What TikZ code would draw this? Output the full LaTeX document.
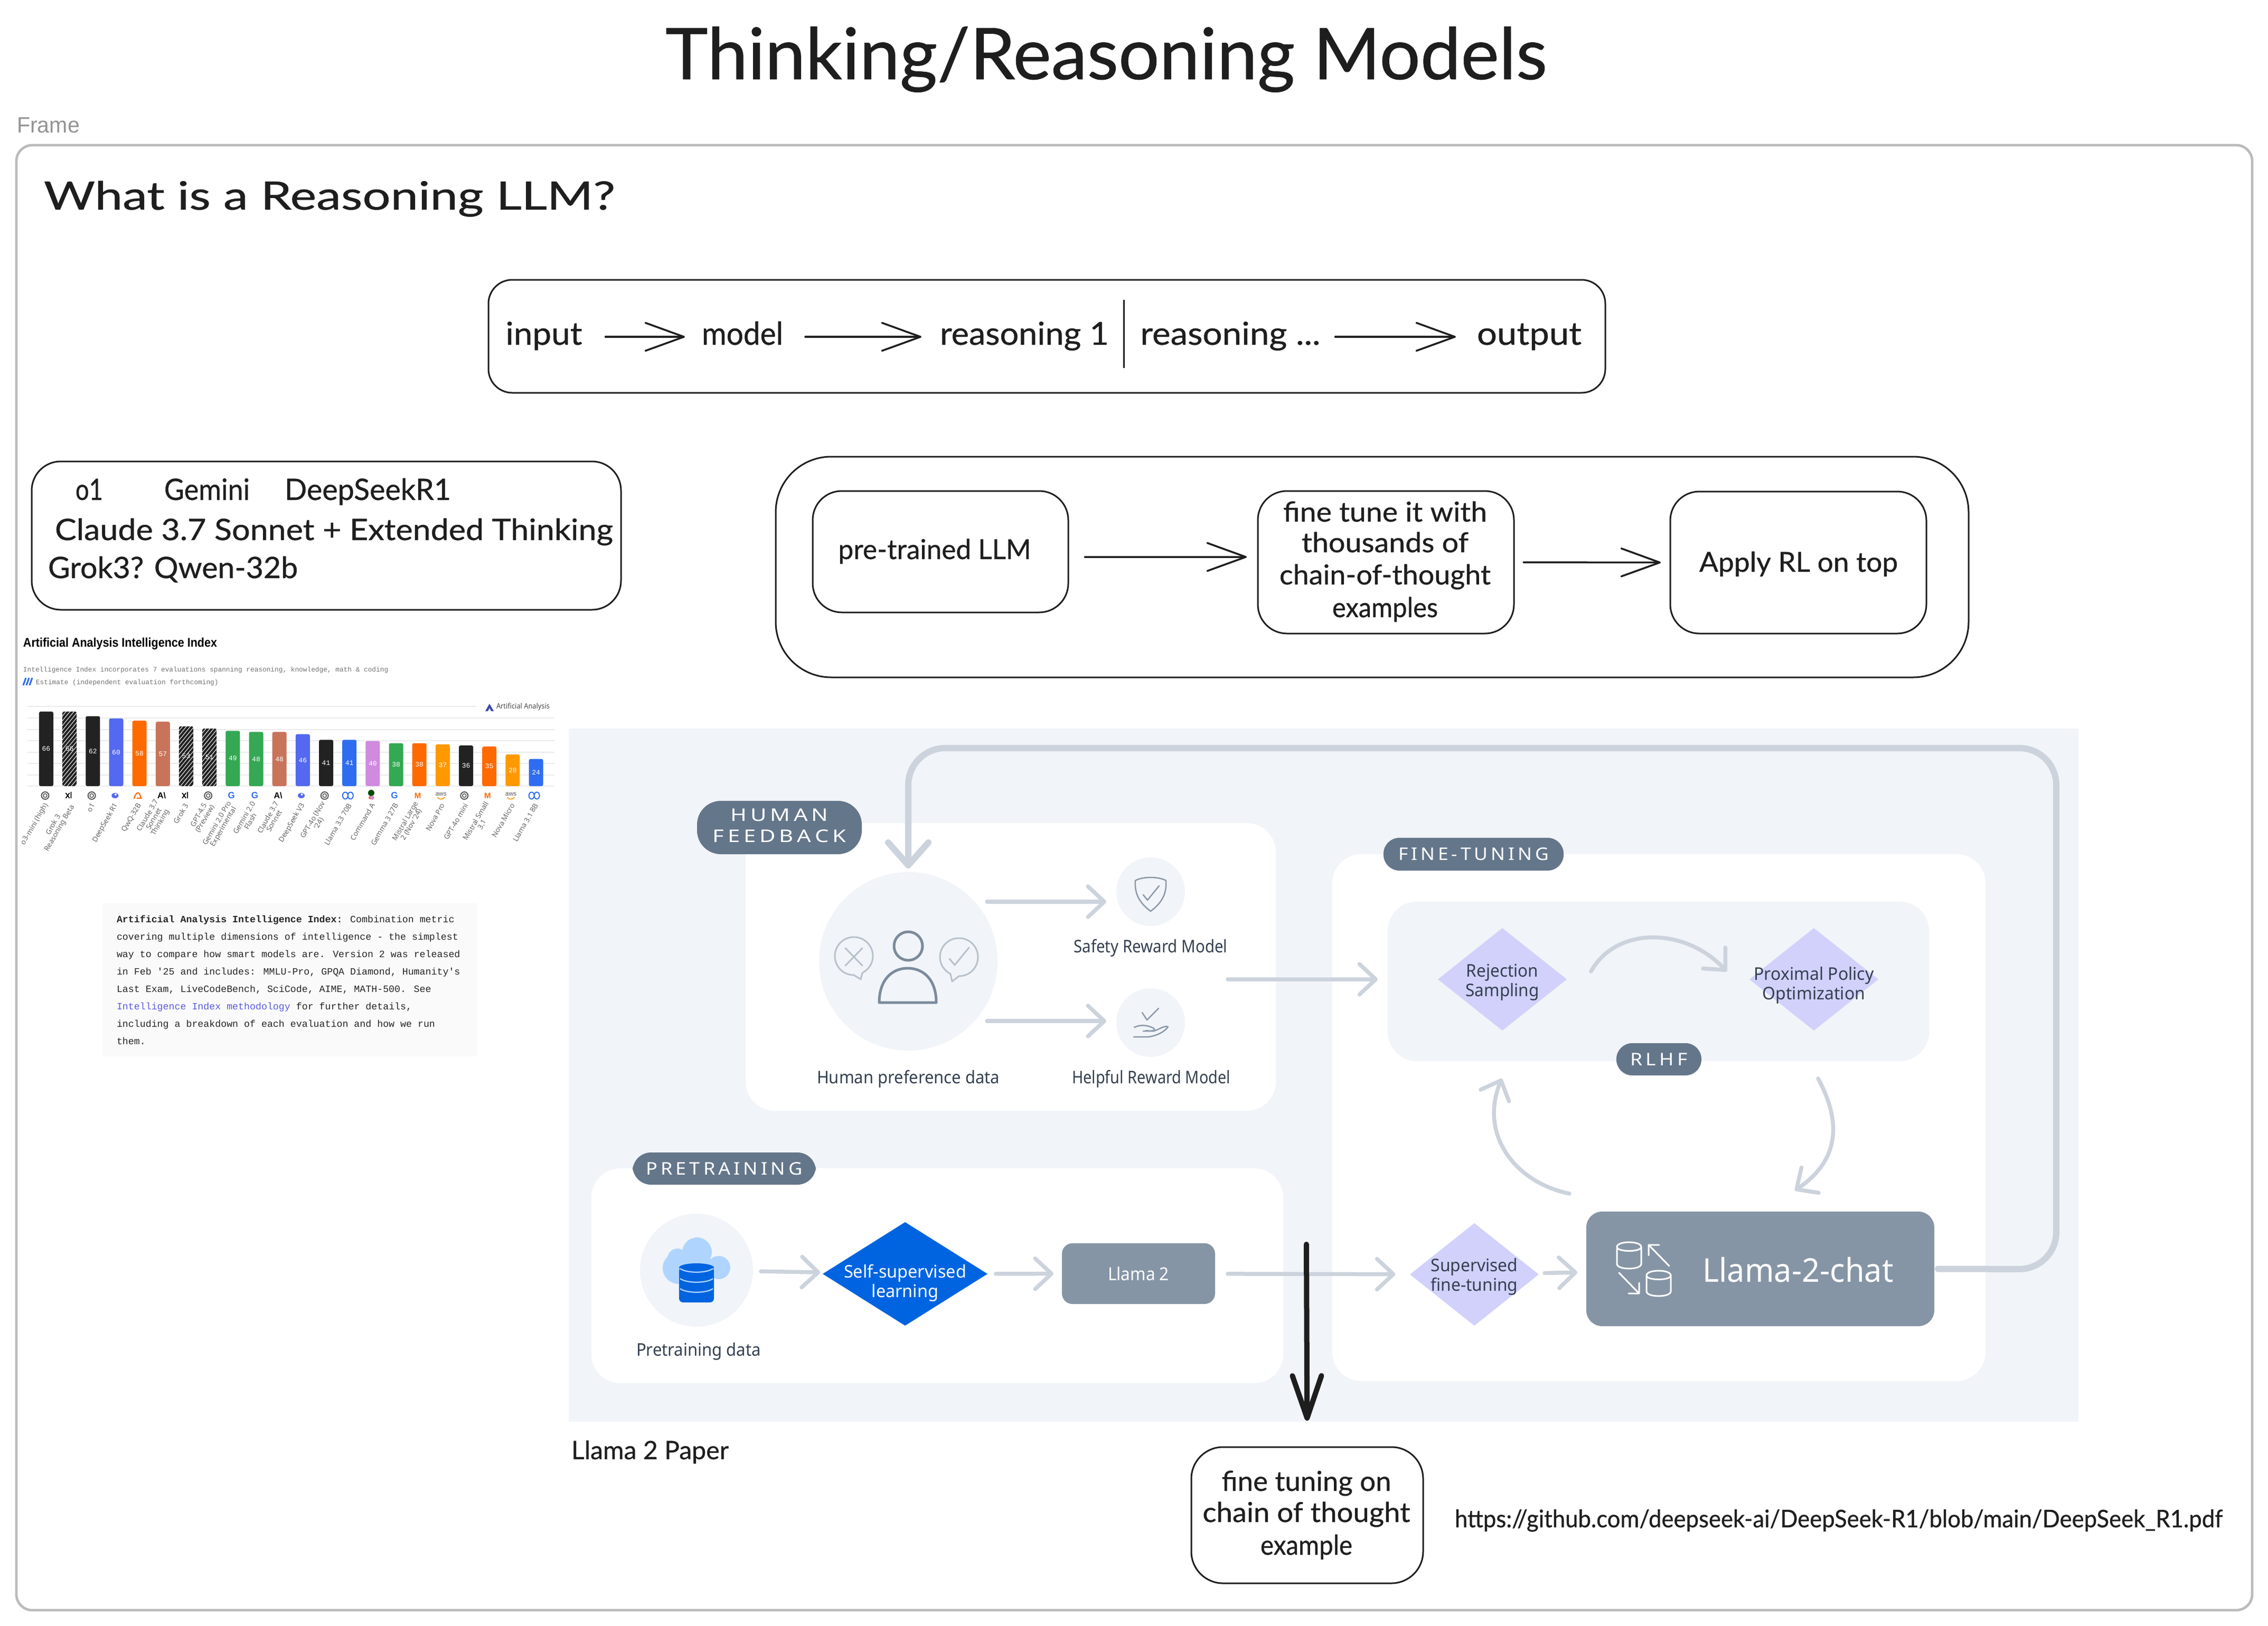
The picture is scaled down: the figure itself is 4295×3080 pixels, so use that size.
\documentclass[tikz,border=0pt]{standalone}
\usepackage{fontspec}
\usepackage{graphicx}
\usetikzlibrary{arrows.meta,shapes.geometric,calc}
\setmainfont{Noto Sans}
\newfontfamily\hand{Lato}[FakeBold=0.6]
\newfontfamily\monof{Liberation Mono}
\newfontfamily\arialf{Liberation Sans}
\newcommand\fs[2]{\fontsize{\fpeval{#1*0.2}pt}{\fpeval{#2*0.2}pt}\selectfont}
\newcommand\fitw[2]{\resizebox{\dimexpr #1pt*2/10\relax}{\height}{#2}}
\newcommand\twol[2]{\begin{tabular}{@{}c@{}}#1\\#2\end{tabular}}
\newcommand\bxnode[7]{\node[#1,minimum width={(#5-#3)*0.2pt},minimum height={(#6-#4)*0.2pt}] (#2) at ({(#3+#5)/2},{(#4+#6)/2}) {#7};}
\definecolor{ink}{HTML}{1E1E1E}
\definecolor{framec}{HTML}{BBBBBB}
\definecolor{pagebg}{HTML}{F1F4F8}
\definecolor{linec}{HTML}{CCD3DC}
\definecolor{bubblec}{HTML}{B7C1CC}
\definecolor{pillc}{HTML}{64768A}
\definecolor{slatec}{HTML}{8695A5}
\definecolor{lilac}{HTML}{D1D1FB}
\definecolor{metablue}{HTML}{0064E0}
\definecolor{skyc}{HTML}{AFD5FF}
\definecolor{txtc}{HTML}{344050}
\definecolor{blk}{HTML}{222222}
\definecolor{dsb}{HTML}{5468F0}
\definecolor{ora}{HTML}{FF6A00}
\definecolor{ter}{HTML}{C8745A}
\definecolor{grn}{HTML}{34A853}
\definecolor{mta}{HTML}{2F6DF0}
\definecolor{pnk}{HTML}{D08AE0}
\definecolor{amb}{HTML}{FF9900}
\tikzset{
  box/.style={draw=ink,line width=0.6pt,fill=white,rounded corners=#1,inner sep=0pt,outer sep=0pt},
  htext/.style={inner sep=0pt,outer sep=0pt,text=ink,font={\hand\fs{#1}{#1}}},
  harrow/.style={draw=ink,line width=0.7pt,line cap=round,-{Straight Barb[length=14.6pt,width=10.6pt,round]}},
  garrow/.style={draw=linec,line width=1.5pt,line cap=round,-{Straight Barb[length=6.2pt,width=11.6pt,round]}},
  card/.style={fill=white,rounded corners=11pt,inner sep=0pt,outer sep=0pt},
  pill/.style={fill=pillc,rounded corners=#1,inner sep=0pt,outer sep=0pt,text=white,font={\bfseries\fs{33}{40}}},
  dia/.style={diamond,fill=lilac,inner sep=0pt,outer sep=0pt},
  uitext/.style={inner sep=0pt,outer sep=0pt,text=txtc,font={\fs{33}{37}}},
  softdisc/.style={circle,fill=pagebg,inner sep=0pt,outer sep=0pt},
  iconl/.style={draw=#1,line width=0.6pt,line join=round,line cap=round},
  row/.style={htext=60,text height=9.5pt,text depth=3.5pt},
}
\begin{document}
\begin{tikzpicture}[x=0.2pt,y=-0.2pt]
\useasboundingbox (0,0) rectangle (4295,3080);
\fill[white] (0,0) rectangle (4295,3080);
% title and frame
\node[htext=135,anchor=base] (title) at (2095,150) {\fitw{1670}{Thinking/Reasoning Models}};
\node[inner sep=0pt,anchor=base west,text=black!42,font={\arialf\fs{42}{42}}] (framelbl) at (31,251) {\fitw{119}{Frame}};
\draw[framec,line width=0.95pt,rounded corners=6pt] (31,275) rectangle (4265,3050);
\node[htext=74,anchor=base west] (heading) at (83,397) {\fitw{1082}{What is a Reasoning LLM?}};
% pipeline box
\bxnode{box=9pt}{pipe}{925}{530}{3040}{744}{}
\node[row] (tinput) at (1030,638) {\fitw{145}{input}};
\node[row] (tmodel) at (1406,638) {\fitw{154}{model}};
\node[row] (tr1) at (1940,638) {\fitw{320}{reasoning 1}};
\node[row] (trn) at (2330,638) {\fitw{341}{reasoning ...}};
\node[row] (toutput) at (2896,638) {\fitw{198}{output}};
\draw[harrow,shorten <=8.8pt,shorten >=6.4pt] (tinput) -- (tmodel);
\draw[harrow,shorten <=8.4pt,shorten >=7pt] (tmodel) -- (tr1);
\draw[harrow,shorten <=5.6pt,shorten >=8pt] (trn) -- (toutput);
\coordinate (divT) at (2128,568); \coordinate (divB) at (2128,697);
\draw[ink,line width=0.6pt] (divT) -- (divB);
% models box
\bxnode{box=11pt}{models}{60}{874}{1176}{1155}{}
\node[htext=56,anchor=base west] (mo1) at (143,947) {\fitw{52}{o1}};
\node[htext=56,anchor=base west] (mgem) at (311,947) {\fitw{162}{Gemini}};
\node[htext=56,anchor=base west] (mds) at (539,947) {\fitw{315}{DeepSeekR1}};
\node[htext=56,anchor=base west] (mcl) at (104,1023) {\fitw{1057}{Claude 3.7 Sonnet + Extended Thinking}};
\node[htext=56,anchor=base west] (mgr) at (91,1095) {\fitw{473}{Grok3? Qwen-32b}};
% recipe box
\bxnode{box=21pt}{recipe}{1469}{865}{3728}{1283}{}
\bxnode{box=11pt}{pre}{1539}{930}{2023}{1160}{}
\bxnode{box=11pt}{fine}{2382}{930}{2867}{1200}{}
\bxnode{box=11pt}{apply}{3163}{931}{3648}{1200}{}
\node[htext=52,anchor=base] (tpre) at (1770,1059) {\fitw{365}{pre-trained LLM}};
\node[htext=52,anchor=base] (tf1) at (2623,988) {\fitw{386}{fine tune it with}};
\node[htext=52,anchor=base] (tf2) at (2623,1046) {\fitw{316}{thousands of}};
\node[htext=52,anchor=base] (tf3) at (2623,1107) {\fitw{400}{chain-of-thought}};
\node[htext=52,anchor=base] (tf4) at (2623,1169) {\fitw{200}{examples}};
\node[htext=52,anchor=base] (tap) at (3406,1083) {\fitw{376}{Apply RL on top}};
\draw[harrow,shorten <=6.2pt,shorten >=4.2pt] ([yshift=-2pt]pre.east) -- ([yshift=2pt]fine.west);
\draw[harrow,shorten <=3.6pt,shorten >=3.6pt] (fine.east) -- (apply.west);
% chart
\node[inner sep=0pt,anchor=base west,text=black,font={\arialf\bfseries\fs{24}{24}}] (chtitle) at (43,1225) {\fitw{367}{Artificial Analysis Intelligence Index}};
\node[inner sep=0pt,anchor=base west,text=black!55,font={\monof\fs{12.8}{12.8}}] (chsub) at (43,1272) {Intelligence Index incorporates 7 evaluations spanning reasoning, knowledge, math \& coding};
\node[inner sep=0pt,anchor=base west,text=black!55,font={\monof\fs{12.8}{12.8}}] (chest) at (67,1296) {Estimate (independent evaluation forthcoming)};
\foreach \lx in {44,50,56} \draw[mta,line width=0.6pt] (\lx,1298) -- (\lx+5,1284);
\draw[black!8,line width=0.5pt] (52,1338) -- (902,1338);
\foreach \gy in {1360,1382,1403,1425,1446,1468,1489} \draw[black!8,line width=0.5pt] (52,\gy) -- (1050,\gy);
\fill[dsb!70!black] (927,1333) -- (935,1347) -- (930,1347) -- (927,1341) -- (924,1347) -- (919,1347) -- cycle;
\node[inner sep=0pt,anchor=west,text=black!70,font={\fs{14}{14}}] (aalogo) at (939,1339) {\fitw{101}{Artificial Analysis}};
\foreach \i/\v/\c/\h in {0/66/blk/0,1/66/blk/1,2/62/blk/0,3/60/dsb/0,4/58/ora/0,5/57/ter/0,6/53/blk/1,7/51/blk/1,8/49/grn/0,9/48/grn/0,10/48/ter/0,11/46/dsb/0,12/41/blk/0,13/41/mta/0,14/40/pnk/0,15/38/grn/0,16/38/ora/0,17/37/amb/0,18/36/blk/0,19/35/ora/0,20/28/amb/0,21/24/mta/0}{
  \pgfmathsetmacro\xc{87.5+44.17*\i}
  \pgfmathsetmacro\ytop{1489-2.137*\v}
  \fill[\c,rounded corners=0.6pt] (\xc-13.5,1489) rectangle (\xc+13.5,\ytop);
  \ifnum\h=1
    \begin{scope}
      \clip (\xc-13.5,1489) rectangle (\xc+13.5,\ytop);
      \foreach \sy in {0,9,...,210} \draw[white,line width=0.2pt] (\xc-14,\ytop+\sy) -- (\xc+14,\ytop+\sy-34);
    \end{scope}
  \fi
  \node[inner sep=0pt,text=white,font={\monof\fs{13}{13}}] (val\i) at (\xc,{(1489+\ytop)/2}) {\v};
}
\foreach \i/\t in {0/{o3-mini (high)},1/{Grok 3\\Reasoning Beta},2/{o1},3/{DeepSeek R1},4/{QwQ-32B},5/{Claude 3.7\\Sonnet\\Thinking},6/{Grok 3},7/{GPT-4.5\\(Preview)},8/{Gemini 2.0 Pro\\Experimental},9/{Gemini 2.0\\Flash},10/{Claude 3.7\\Sonnet},11/{DeepSeek V3},12/{GPT-4o (Nov\\'24)},13/{Llama 3.3 70B},14/{Command A},15/{Gemma 3 27B},16/{Mistral Large\\2 (Nov '24)},17/{Nova Pro},18/{GPT-4o mini},19/{Mistral Small\\3.1},20/{Nova Micro},21/{Llama 3.1 8B}}{
  \pgfmathsetmacro\xc{87.5+44.17*\i}
  \node[inner sep=0pt,anchor=east,rotate=60,align=center,text=black!60,font={\fs{13.5}{13.5}}] (lab\i) at (\xc+1,1522) {\t};
}
\foreach \i in {0,2,7,12,18}{\pgfmathsetmacro\xc{85.5+44.1*\i}
  \draw[black!65,line width=0.4pt] (\xc,1507) circle[radius=1.4pt];
  \draw[black!65,line width=0.3pt] (\xc,1507) circle[radius=0.7pt];}
\foreach \i in {1,6}{\pgfmathsetmacro\xc{85.5+44.1*\i}
  \draw[black,line width=0.35pt] (\xc-5,1502) -- (\xc+2,1512) (\xc+2,1502) -- (\xc-5,1512) (\xc+5,1500) -- (\xc+5,1512);}
\foreach \i in {3,11}{\pgfmathsetmacro\xc{85.5+44.1*\i}
  \fill[dsb] (\xc,1507) ellipse[x radius=1.3pt,y radius=1pt];
  \fill[white] (\xc+1,1505) circle[radius=0.4pt];}
\foreach \i in {4}{\pgfmathsetmacro\xc{85.5+44.1*\i}
  \draw[ora,line width=0.45pt] (\xc-8,1513) .. controls (\xc-4,1498) and (\xc+3,1498) .. (\xc+5,1513) (\xc-3,1512) -- (\xc+7,1512);}
\foreach \i in {5,10}{\pgfmathsetmacro\xc{85.5+44.1*\i}
  \node[inner sep=0pt,text=black,font={\arialf\bfseries\fs{16}{16}}] (ant\i) at (\xc,1507) {A\textbackslash};}
\foreach \i in {8,9,15}{\pgfmathsetmacro\xc{85.5+44.1*\i}
  \node[inner sep=0pt,text=mta,font={\arialf\bfseries\fs{17}{17}}] (goo\i) at (\xc,1507) {G};}
\foreach \i in {13,21}{\pgfmathsetmacro\xc{85.5+44.1*\i}
  \draw[mta,line width=0.4pt] (\xc-5,1507) ellipse[x radius=1pt,y radius=1.3pt] (\xc+5,1507) ellipse[x radius=1pt,y radius=1.3pt];}
\pgfmathsetmacro\xc{85.5+44.1*14}
\fill[green!30!black] (\xc,1502) circle[radius=1.2pt];
\fill[ora] (\xc-2,1511) circle[radius=0.6pt];
\fill[pnk] (\xc+2,1511) circle[radius=0.8pt];
\foreach \i in {16,19}{\pgfmathsetmacro\xc{85.5+44.1*\i}
  \node[inner sep=0pt,text=ora,font={\arialf\bfseries\fs{15}{15}}] (mis\i) at (\xc,1507) {M};}
\foreach \i in {17,20}{\pgfmathsetmacro\xc{85.5+44.1*\i}
  \node[inner sep=0pt,text=black!65,font={\arialf\fs{12}{12}}] (aws\i) at (\xc,1504) {aws};
  \draw[amb,line width=0.35pt] (\xc-7,1510) .. controls (\xc-3,1515) and (\xc+3,1515) .. (\xc+7,1510);}
% chart note
\fill[black!2,rounded corners=0.8pt] (195,1711) rectangle (904,2001);
\begin{scope}[every node/.style={inner sep=0pt,anchor=base west,text=black!85,font={\monof\fs{18.27}{18.27}}}]
\node (n1) at (220,1747) {\textbf{Artificial Analysis Intelligence Index:} Combination metric};
\node (n2) at (220,1780) {covering multiple dimensions of intelligence - the simplest};
\node (n3) at (220,1813) {way to compare how smart models are. Version 2 was released};
\node (n4) at (220,1846) {in Feb '25 and includes: MMLU-Pro, GPQA Diamond, Humanity's};
\node (n5) at (220,1879) {Last Exam, LiveCodeBench, SciCode, AIME, MATH-500. See};
\node (n6) at (220,1912) {\textcolor[HTML]{5C5CE0}{Intelligence Index methodology} for further details,};
\node (n7) at (220,1945) {including a breakdown of each evaluation and how we run};
\node (n8) at (220,1978) {them.};
\end{scope}
% llama 2 figure
\fill[pagebg] (1077,1380) rectangle (3936,2693);
\bxnode{card}{hfcard}{1412}{1559}{2416}{2104}{}
\bxnode{card}{ftcard}{2523}{1618}{3760}{2616}{}
\bxnode{card}{ptcard}{1120}{2213}{2430}{2620}{}
\bxnode{card,fill=pagebg}{rlgroup}{2628}{1708}{3653}{2010}{}
% human feedback content
\node[softdisc,minimum size=67.6pt] (pref) at (1720,1821) {};
\node[softdisc,minimum size=26pt] (safety) at (2179,1689) {};
\node[softdisc,minimum size=26pt] (helpful) at (2179,1937) {};
\draw[iconl=pillc!85,line width=1pt] (1720,1792) circle[radius=5.4pt];
\draw[iconl=pillc!85,line width=1pt] (1665,1899) .. controls (1665,1855) and (1690,1834) .. (1719,1834) .. controls (1748,1834) and (1773,1855) .. (1773,1899) -- cycle;
\draw[iconl=bubblec] (1617,1847) .. controls (1597,1847) and (1581,1831) .. (1581,1811) .. controls (1581,1791) and (1597,1775) .. (1617,1775) .. controls (1637,1775) and (1653,1791) .. (1653,1811) .. controls (1653,1825) and (1645,1836) .. (1633,1843) -- (1630,1855) -- cycle;
\draw[iconl=bubblec] (1601,1796) -- (1633,1829) (1633,1796) -- (1601,1829);
\draw[iconl=bubblec] (1816,1849) .. controls (1836,1849) and (1852,1833) .. (1852,1813) .. controls (1852,1793) and (1836,1777) .. (1816,1777) .. controls (1796,1777) and (1780,1793) .. (1780,1813) .. controls (1780,1827) and (1788,1838) .. (1800,1845) -- (1803,1859) -- cycle;
\draw[iconl=bubblec] (1798,1816) -- (1808,1828) -- (1835,1795);
\draw[iconl=pillc!75,line width=0.5pt] (2179,1662) .. controls (2165,1662) and (2155,1665) .. (2150,1668) .. controls (2148,1695) and (2160,1712) .. (2179,1726) .. controls (2198,1712) and (2210,1695) .. (2208,1668) .. controls (2203,1665) and (2193,1662) .. (2179,1662) -- cycle;
\draw[iconl=pillc!75,line width=0.5pt] (2165,1695) -- (2173,1705) -- (2195,1678);
\draw[iconl=pillc!75,line width=0.5pt] (2163,1918) -- (2172,1932) -- (2194,1910);
\draw[iconl=pillc!75,line width=0.5pt] (2147,1964) -- (2175,1964) .. controls (2190,1962) and (2205,1955) .. (2212,1945) .. controls (2205,1942) and (2195,1950) .. (2185,1953) -- (2165,1953) (2148,1946) .. controls (2160,1940) and (2175,1942) .. (2185,1948) .. controls (2190,1952) and (2180,1954) .. (2170,1952);
\node[uitext] (tpref) at (1720,2044) {\fitw{346}{Human preference data}};
\node[uitext] (tsafe) at (2179,1796) {\fitw{291}{Safety Reward Model}};
\node[uitext] (thelp) at (2180,2044) {\fitw{300}{Helpful Reward Model}};
\coordinate (saS) at (1869,1708); \coordinate (saE) at (2095,1708);
\coordinate (heS) at (1869,1934); \coordinate (heE) at (2095,1934);
\draw[garrow] (saS) -- (saE);
\draw[garrow] (heS) -- (heE);
\coordinate (hfout) at (2325,1855);
\draw[garrow,shorten >=3.8pt] (hfout) -- ([yshift=0.8pt]rlgroup.west);
\bxnode{pill=9pt}{hfpill}{1320}{1517}{1632}{1618}{\raisebox{-3pt}{}\fitw{253}{\twol{H\,U\,M\,A\,N}{F\,E\,E\,D\,B\,A\,C\,K}}}
% fine tuning content
\bxnode{pill=6pt}{ftpill}{2620}{1587}{2961}{1649}{\fitw{285}{F\,I\,N\,E\,-\,T\,U\,N\,I\,N\,G}}
\bxnode{pill=6pt}{rlpill}{3061}{1976}{3222}{2037}{\fitw{108}{R\,L\,H\,F}}
\node[dia,minimum width=48.8pt,minimum height=38.8pt] (rej) at (2845,1855) {};
\node[dia,minimum width=48.8pt,minimum height=38.8pt] (ppo) at (3435,1855) {};
\node[dia,minimum width=48.8pt,minimum height=38.8pt] (sup) at (2792,2414) {};
\node[uitext] (trej) at (2845,1862) {\fitw{139}{\twol{Rejection}{Sampling}}};
\node[uitext] (tppo) at (3435,1868) {\fitw{227}{\twol{Proximal Policy}{Optimization}}};
\node[uitext] (tsup) at (2792,2420) {\fitw{165}{\twol{Supervised}{fine-tuning}}};
\bxnode{card,fill=slatec,rounded corners=6pt}{chat}{3004}{2295}{3663}{2512}{}
\node[inner sep=0pt,text=white,font={\fs{62}{62}}] (tchat) at (3405,2405) {\fitw{361}{Llama-2-chat}};
% chat icon
\draw[iconl=white] (3062,2362) .. controls (3062,2350) and (3108,2350) .. (3108,2362) -- (3108,2394) .. controls (3108,2406) and (3062,2406) .. (3062,2394) -- cycle (3062,2362) .. controls (3062,2372) and (3108,2372) .. (3108,2362);
\draw[iconl=white] (3118,2416) .. controls (3118,2404) and (3164,2404) .. (3164,2416) -- (3164,2446) .. controls (3164,2458) and (3118,2458) .. (3118,2446) -- cycle (3118,2416) .. controls (3118,2426) and (3164,2426) .. (3164,2416);
\draw[iconl=white] (3161,2398) -- (3122,2358) (3122,2378) -- (3122,2358) -- (3142,2358);
\draw[iconl=white] (3066,2411) -- (3104,2450) (3104,2430) -- (3104,2450) -- (3084,2450);
% curved arrows in RLHF loop
\coordinate (c1S) at (3013,1840); \coordinate (c1E) at (3270,1840);
\coordinate (c2S) at (3443,2043); \coordinate (c2E) at (3399,2255);
\coordinate (c3S) at (2972,2261); \coordinate (c3E) at (2844,2043);
\draw[garrow] (c1S) .. controls (3060,1755) and (3190,1755) .. (c1E);
\draw[garrow] (c2S) .. controls (3490,2130) and (3480,2200) .. (c2E);
\draw[garrow] (c3S) .. controls (2870,2240) and (2800,2150) .. (c3E);
% feedback loop
\coordinate (loopBR) at (3894,2404); \coordinate (loopTR) at (3894,1417); \coordinate (loopTL) at (1720,1417);
\draw[draw=linec,line width=2.4pt,line cap=round,rounded corners=14pt,-{Straight Barb[length=8.6pt,width=15.2pt,round]},shorten <=1.4pt,shorten >=1.4pt] (chat.east) -- (loopBR) -- (loopTR) -- (loopTL) -- (pref.north);
% pretraining content
\node[softdisc,minimum size=42.8pt] (pcirc) at (1319,2406) {};
\fill[skyc] (1320,2372) circle[radius=5.6pt] (1283,2384) circle[radius=3.8pt] (1285,2402) circle[radius=6pt] (1361,2401) circle[radius=4.4pt] (1320,2402) circle[radius=6pt];
\fill[metablue,rounded corners=1.5pt] (1286,2400) rectangle (1352,2467);
\fill[metablue] (1319,2401) ellipse[x radius=6.6pt,y radius=1.6pt];
\draw[skyc,line width=0.45pt] (1288,2403) .. controls (1300,2412) and (1338,2412) .. (1350,2403) (1288,2422) .. controls (1300,2431) and (1338,2431) .. (1350,2422) (1288,2441) .. controls (1300,2450) and (1338,2450) .. (1350,2441);
\node[uitext] (tpdat) at (1323,2560) {\fitw{236}{Pretraining data}};
\node[diamond,fill=metablue,inner sep=0pt,outer sep=0pt,minimum width=62.4pt,minimum height=39.2pt] (selfd) at (1714,2413) {};
\node[inner sep=0pt,text=white,font={\fs{33}{37}}] (tself) at (1714,2432) {\fitw{232}{\twol{Self-supervised}{learning}}};
\bxnode{card,fill=slatec,rounded corners=4pt}{llama}{2011}{2355}{2301}{2470}{\textcolor{white}{\fitw{116}{\fs{34}{34}Llama 2}}}
\draw[garrow,shorten <=3pt,shorten >=1.8pt] (pcirc) -- (selfd);
\draw[garrow,shorten <=3.2pt,shorten >=3.2pt] (selfd) -- (llama);
\draw[garrow,shorten <=4.8pt,shorten >=5.6pt] (llama) -- (sup);
\draw[garrow,shorten <=2.8pt,shorten >=3.4pt] (sup) -- (chat);
\bxnode{pill=7pt}{ptpill}{1198}{2183}{1545}{2244}{\fitw{296}{P\,R\,E\,T\,R\,A\,I\,N\,I\,N\,G}}
% bottom notes
\node[htext=48,anchor=base west] (tpaper) at (1082,2764) {\fitw{298}{Llama 2 Paper}};
\bxnode{box=12pt}{ftbox}{2256}{2741}{2695}{2999}{}
\node[htext=52,anchor=base] (tb1) at (2474,2824) {\fitw{321}{fine tuning on}};
\node[htext=52,anchor=base] (tb2) at (2474,2883) {\fitw{393}{chain of thought}};
\node[htext=52,anchor=base] (tb3) at (2474,2945) {\fitw{174}{example}};
\node[htext=46,anchor=base west] (turl) at (2755,2893) {\fitw{1454}{https://github.com/deepseek-ai/DeepSeek-R1/blob/main/DeepSeek\_R1.pdf}};
\coordinate (blkS) at (2474,2357);
\draw[ink,line width=2pt,line cap=round,-{Straight Barb[length=16pt,width=11pt,round]},shorten >=10pt] (blkS) -- (ftbox.north);
\end{tikzpicture}
\end{document}
